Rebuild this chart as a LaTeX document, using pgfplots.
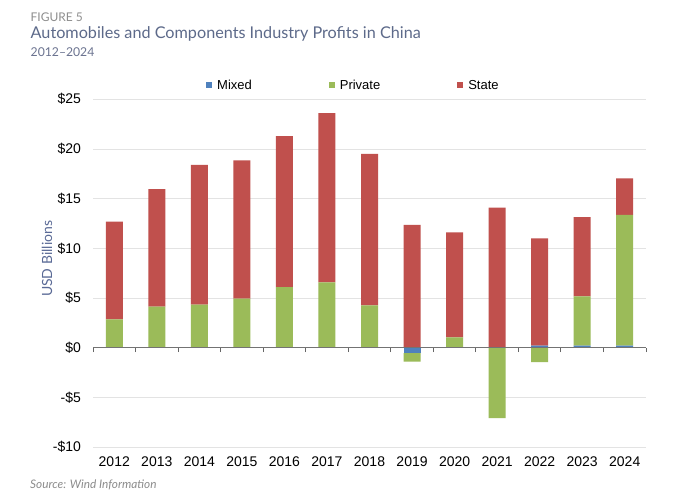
\documentclass[border=0pt]{standalone}
\usepackage{pgfplots}
\pgfplotsset{compat=1.18}
\usepackage{fontspec}
\setmainfont{Liberation Sans}
\newfontfamily\latofont{Lato}
\definecolor{cMixed}{HTML}{4F81BD}
\definecolor{cPrivate}{HTML}{9BBB59}
\definecolor{cState}{HTML}{C0504D}
\definecolor{cTitle}{HTML}{5D6A8A}
\definecolor{cFig}{HTML}{8E8E8E}
\definecolor{cSub}{HTML}{6B7390}
\definecolor{cYlab}{HTML}{5A6A96}
\definecolor{cGrid}{HTML}{E3E3E3}
\definecolor{cSrc}{HTML}{8C8C8C}

% positive parts: x index, mixed, private, state
\pgfplotstableread{
x mixed private state
0 0.05 2.80 9.83
1 0.05 4.08 11.84
2 0.05 4.28 14.06
3 0.05 4.88 13.93
4 0.05 6.05 15.20
5 0.05 6.53 17.02
6 0.05 4.21 15.24
7 0.00 0.00 12.35
8 0.02 1.02 10.56
9 0.05 0.00 14.05
10 0.20 0.00 10.80
11 0.20 4.97 7.98
12 0.20 13.16 3.69
}\pos
% negative parts
\pgfplotstableread{
x mixed private
0 0 0
1 0 0
2 0 0
3 0 0
4 0 0
5 0 0
6 0 0
7 -0.55 -0.85
8 0 0
9 0 -7.10
10 0 -1.45
11 0 0
12 0 0
}\neg

\begin{document}
\begin{tikzpicture}
\useasboundingbox (0,0) rectangle (680bp,501bp);
\fill[white] (0,0) rectangle (680bp,501bp);
\node[anchor=base west, inner sep=0, text=cFig, font=\latofont\fontsize{12bp}{14bp}\selectfont] at (30.5bp,479.7bp) {FIGURE 5};
\node[anchor=base west, inner sep=0, text=cTitle, font=\latofont\fontsize{16.2bp}{19bp}\selectfont] at (30.5bp,462bp) {Automobiles and Components Industry Profits in China};
\node[anchor=base west, inner sep=0, text=cSub, font=\latofont\fontsize{12.2bp}{14bp}\selectfont] at (30.5bp,444.3bp) {2012–2024};
\node[anchor=base west, inner sep=0, text=cSrc, font=\latofont\itshape\fontsize{11.8bp}{13bp}\selectfont] at (30bp,13bp) {Source: Wind Information};

\begin{axis}[
  at={(93bp,54bp)}, anchor=south west,
  scale only axis, width=553bp, height=347.7bp,
  xmin=-0.5, xmax=12.5, ymin=-10, ymax=25,
  ybar stacked, bar width=17bp,
  axis line style={draw=none},
  ytick={-10,-5,0,5,10,15,20,25},
  yticklabels={-\$10,-\$5,\$0,\$5,\$10,\$15,\$20,\$25},
  ymajorgrids, grid style={draw=cGrid, line width=0.8bp},
  xtick={0,...,12},
  xticklabels={2012,2013,2014,2015,2016,2017,2018,2019,2020,2021,2022,2023,2024},
  major tick length=0pt,
  tick label style={font=\fontsize{14bp}{16bp}\selectfont},
  xticklabel style={yshift=-6bp},
  yticklabel style={xshift=-8.5bp},
  ylabel={USD Billions},
  ylabel style={at={(axis description cs:-0.0832,0.541)}, anchor=center, text=cYlab, font=\latofont\fontsize{14bp}{16bp}\selectfont},
  legend columns=3,
  legend style={draw=none, fill=none, inner sep=0pt, at={(0.2043,1.040)}, anchor=west,
    font=\fontsize{13bp}{15bp}\selectfont,
    nodes={inner sep=0pt},
    /tikz/every even column/.append style={column sep=77bp}},
  legend image code/.code={\fill[#1] (0bp,-3bp) rectangle (6bp,3bp); \path (11bp,0bp);},
]
\addplot[fill=cMixed, draw=none] table[x=x, y=mixed] {\pos};
\addlegendentry{Mixed}
\addplot[fill=cPrivate, draw=none] table[x=x, y=private] {\pos};
\addlegendentry{Private}
\addplot[fill=cState, draw=none] table[x=x, y=state] {\pos};
\addlegendentry{State}
\end{axis}

\begin{axis}[
  at={(93bp,54bp)}, anchor=south west,
  scale only axis, width=553bp, height=347.7bp,
  xmin=-0.5, xmax=12.5, ymin=-10, ymax=25,
  ybar stacked, bar width=17bp, hide axis,
]
\addplot[fill=cMixed, draw=none] table[x=x, y=mixed] {\neg};
\addplot[fill=cPrivate, draw=none] table[x=x, y=private] {\neg};
\end{axis}

% x axis line at zero with outward tick marks between categories
\begin{axis}[
  at={(93bp,153.34bp)}, anchor=south west,
  scale only axis, width=553bp, height=10bp,
  xmin=-0.5, xmax=12.5, ymin=0, ymax=1,
  axis x line*=bottom, axis y line=none,
  x axis line style={draw=black!55, line width=1bp, -},
  xtick={-0.5,0.5,1.5,2.5,3.5,4.5,5.5,6.5,7.5,8.5,9.5,10.5,11.5,12.5},
  xticklabels={},
  tick align=outside, major tick length=4.5bp,
  xtick style={draw=black!60, line width=1bp},
]
\end{axis}
\end{tikzpicture}
\end{document}
